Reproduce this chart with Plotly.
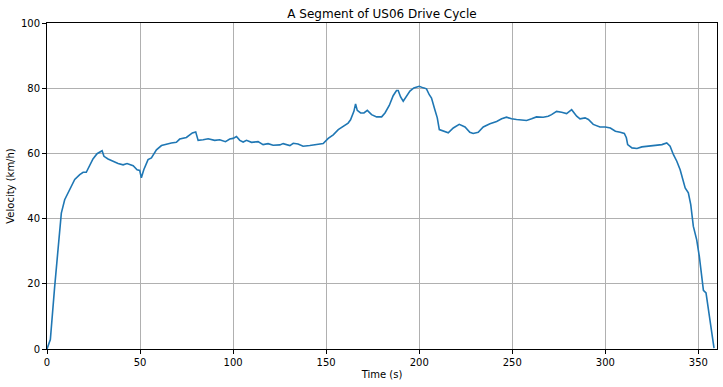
import plotly.graph_objects as go

time_s = [0, 1.8, 4.1, 5.9, 7.7, 9.5, 12.2, 14.9, 17.6, 19.4, 21.1, 22.9, 24.7, 26.9, 29.6, 30.6,
          32.8, 35.5, 38.2, 40.9, 43, 46.3, 48.4, 49.8, 50.7, 52, 54.3, 56.1, 58.8, 61.5, 64.2,
          66.8, 69.5, 71.3, 74.9, 78.1, 79.9, 81.2, 83.9, 86.6, 90.1, 92.8, 95.9, 98.2, 100,
          101.8, 103.6, 105.4, 107.2, 109.9, 113.4, 116.1, 118.8, 121.5, 125.1, 126.9, 130.5,
          132.3, 134.9, 137.6, 141.2, 144.8, 148.4, 151.1, 153.8, 156.5, 159.1, 161.8, 163.1,
          164.2, 164.9, 165.8, 166.7, 168.5, 170.3, 172.1, 174.4, 177.1, 179.8, 181.6, 183.9,
          186.0, 187.8, 188.7, 190, 191.4, 193.2, 195, 197.1, 200, 202.2, 203.9, 205.4, 206.6,
          208.4, 209.7, 210.8, 212.9, 215.6, 218.3, 221.5, 224.6, 227.2, 229.0, 231.7, 234.4,
          238, 241.6, 244.3, 246.9, 249.6, 252.3, 255, 257.7, 260.4, 263, 266.6, 269.3, 271.1,
          273.8, 276.5, 279.2, 281.9, 284.6, 286.4, 289.1, 290.9, 293.5, 297.1, 300, 302.7,
          305.4, 308, 310.2, 311.3, 312, 314.3, 317, 319.6, 322.3, 325, 327.7, 330.4, 333,
          334.8, 336.6, 338.4, 340.2, 341.6, 342.9, 344.6, 345.9, 347.3, 349.1, 350.5, 351.8,
          352.7, 354.1, 355.4, 357.1, 358.4]
velocity_kmh = [0, 2.9, 19, 31.5, 41.7, 45.8, 48.9, 52, 53.5, 54.2, 54.2, 56.5, 58.3, 59.9, 60.8, 59.1,
                58.3, 57.6, 56.9, 56.5, 56.9, 56.2, 55, 54.8, 52.5, 55, 58.1, 58.6, 61.1, 62.4, 62.9,
                63.2, 63.4, 64.4, 64.9, 66.3, 66.6, 64, 64.2, 64.5, 64, 64.2, 63.6, 64.4, 64.6,
                65.2, 64, 63.5, 64, 63.4, 63.6, 62.7, 63, 62.5, 62.6, 63, 62.4,
                63.1, 62.9, 62.2, 62.4, 62.6, 63, 64.6, 65.7, 67.3, 68.3, 69.3, 70.3,
                72.2, 72.9, 75.2, 73.2, 72.4, 72.4, 73.2, 71.9, 71.2, 71.2, 72.4, 74.7,
                77.7, 79.3, 79.3, 77.3, 76, 77.5, 79.1, 80.1, 80.6, 80.1, 79.8, 78, 77,
                73.4, 70.9, 67.3, 66.8, 66.3, 67.8, 68.9, 68.1, 66.5, 66.1, 66.5, 68.1,
                69.1, 69.8, 70.6, 71.1, 70.6, 70.4, 70.2, 70.1, 70.6, 71.2, 71.1, 71.4, 71.9,
                72.9, 72.6, 72.2, 73.4, 71.4, 70.6, 70.9, 70.4, 68.9, 68.1, 68.1, 67.8,
                66.8, 66.5, 66.1, 64.8, 62.7, 61.7, 61.5, 62, 62.2, 62.4, 62.7, 62.7, 63.2,
                62.2, 59.6, 57.6, 55, 52, 49.4, 47.9, 44.3, 37.6, 33.5, 28.4, 21.8,
                18, 17.2, 12.1, 5.4, 0.3]

x_ticks = [0, 50, 100, 150, 200, 250, 300, 350]
y_ticks = [0, 20, 40, 60, 80, 100]

fig = go.Figure()
fig.add_trace(go.Scatter(x=time_s, y=velocity_kmh, mode="lines",
                         line=dict(color="#1f77b4", width=1.6), showlegend=False))

axis_common = dict(showline=True, linecolor="black", linewidth=1, mirror=True,
                   showgrid=True, gridcolor="#b0b0b0", gridwidth=1,
                   ticks="outside", ticklen=4, tickcolor="black", zeroline=False,
                   tickfont=dict(family="DejaVu Sans", size=10, color="black"))

fig.update_layout(
    width=723, height=387,
    margin=dict(l=47, r=6, t=23, b=38),
    paper_bgcolor="white", plot_bgcolor="white",
    title=dict(text="A Segment of US06 Drive Cycle", x=0.5, xref="paper", xanchor="center",
               y=0.965, yanchor="middle",
               font=dict(family="DejaVu Sans", size=12, color="black")),
    xaxis=dict(range=[0, 360], tickvals=x_ticks,
               title=dict(text="Time (s)", standoff=3,
                          font=dict(family="DejaVu Sans", size=10, color="black")),
               **axis_common),
    yaxis=dict(range=[0, 100], tickvals=y_ticks,
               title=dict(text="Velocity (km/h)", standoff=4,
                          font=dict(family="DejaVu Sans", size=10, color="black")),
               **axis_common),
)

fig.write_html("out.html")
